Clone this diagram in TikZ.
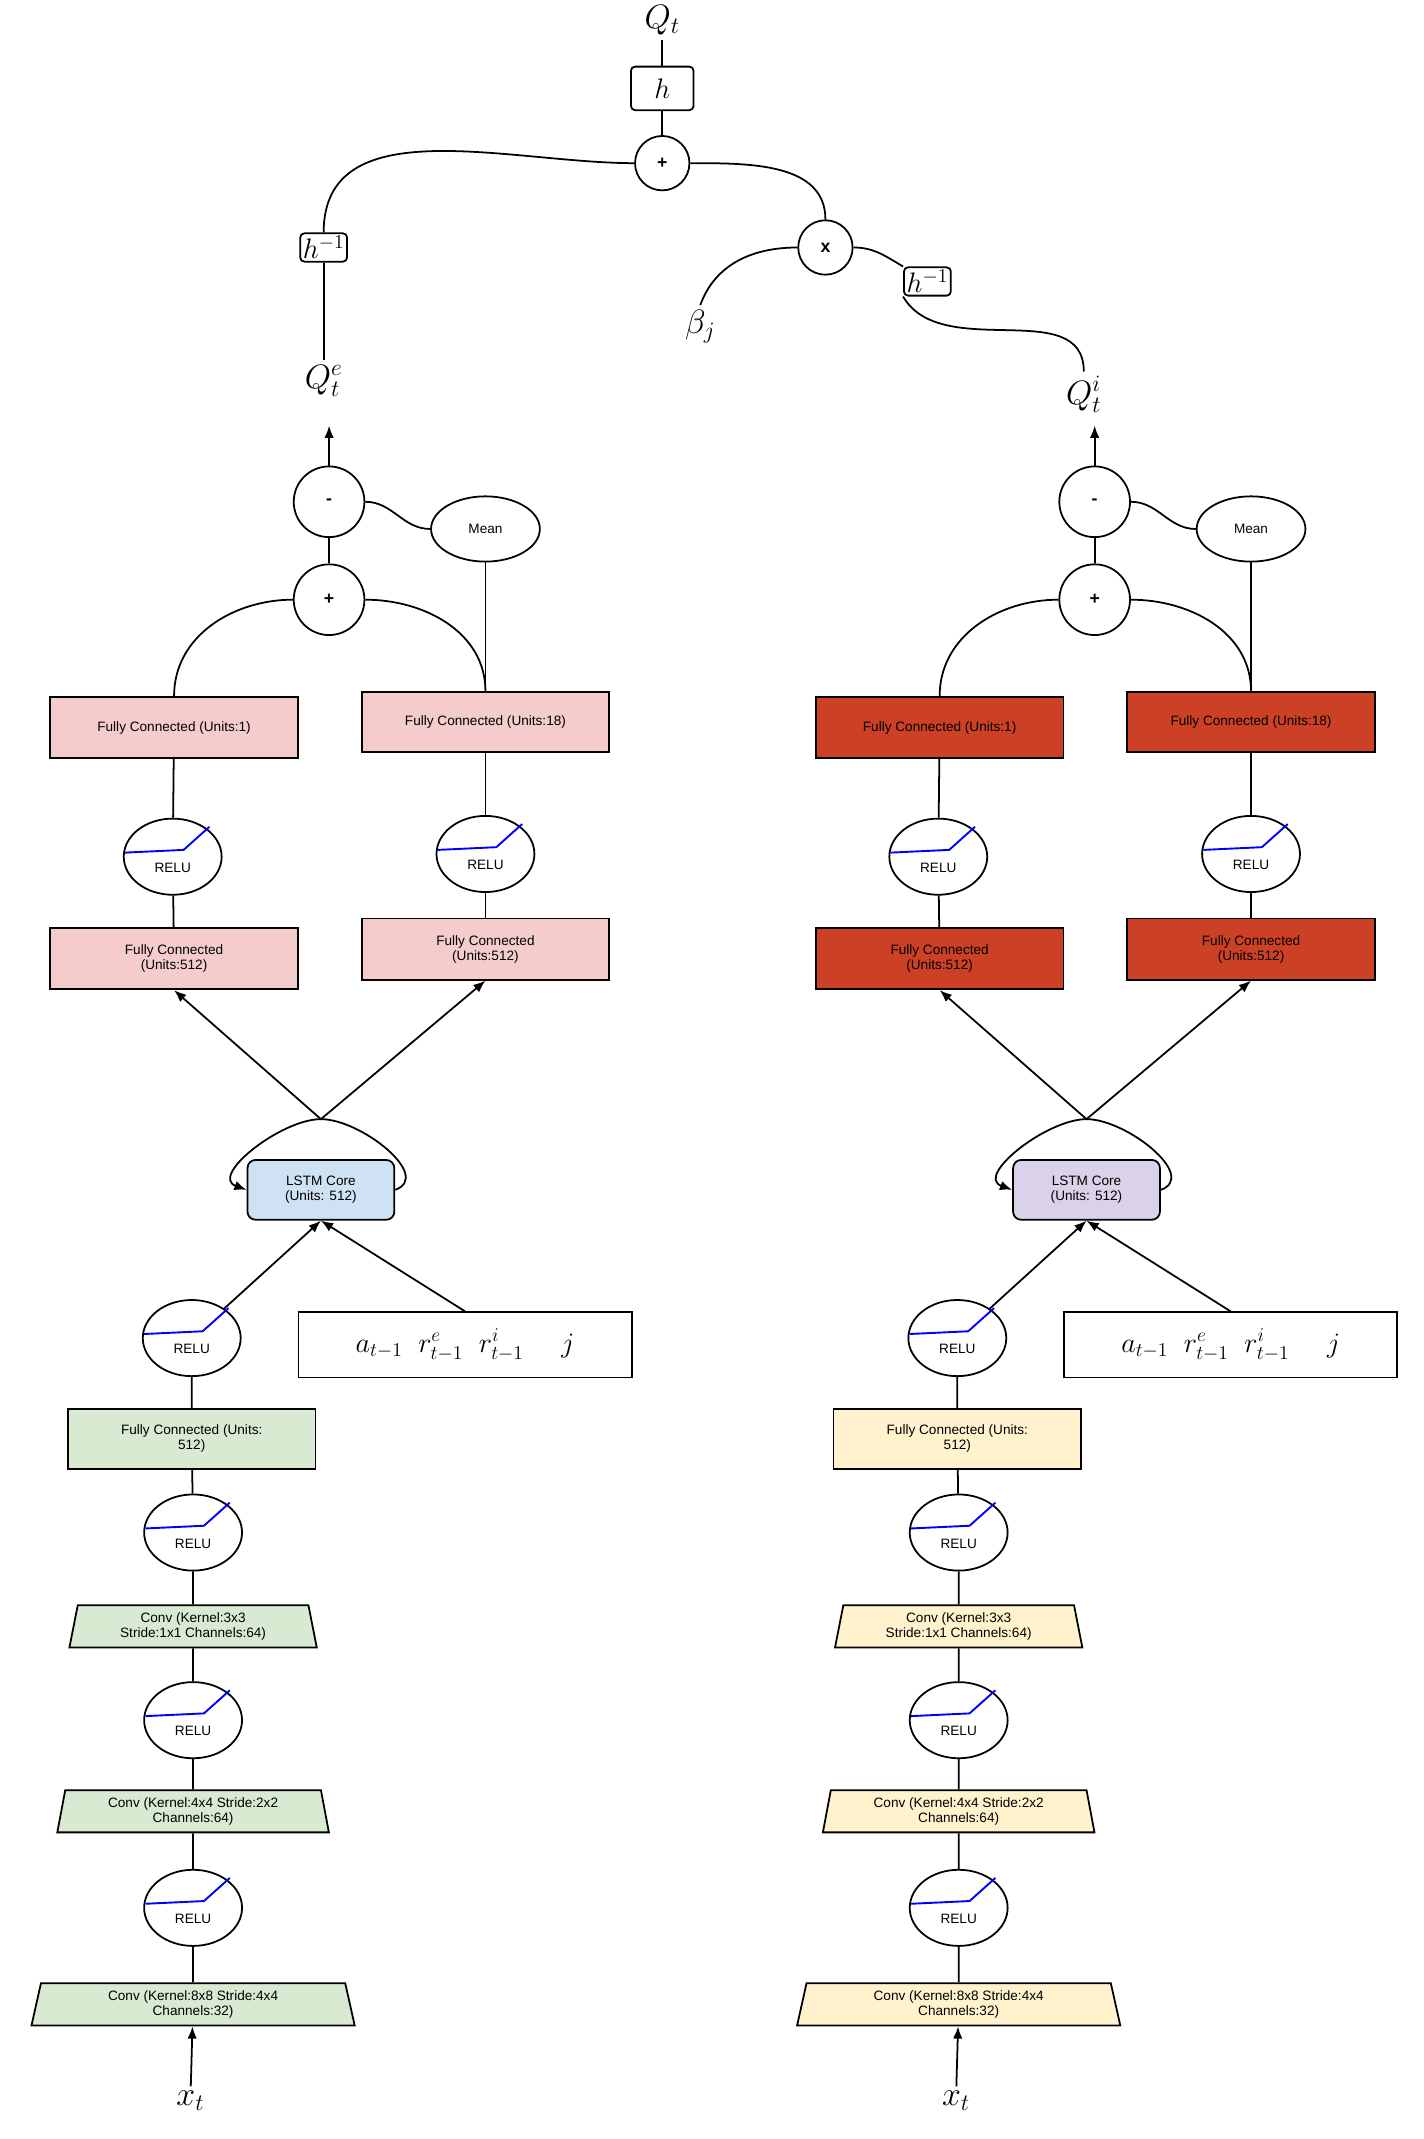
\documentclass[tikz,border=0pt]{standalone}
\usepackage{fontspec}
\newfontfamily\sans{Liberation Sans}
\usetikzlibrary{shapes.geometric,arrows.meta}
\definecolor{pinkc}{HTML}{F4CCCC}
\definecolor{redc}{HTML}{CC4125}
\definecolor{bluec}{HTML}{CFE2F3}
\definecolor{purc}{HTML}{D9D2E9}
\definecolor{greenc}{HTML}{D9EAD3}
\definecolor{yelc}{HTML}{FFF2CC}
\tikzset{
 every node/.style={font=\sans\fontsize{10}{11}\selectfont},
 ln/.style={line width=1.3pt},
 box/.style={draw,line width=1.3pt,minimum width=182pt,minimum height=45pt,align=center,inner sep=1pt},
 trap/.style={draw,line width=1.3pt,trapezium,trapezium stretches=true,trapezium angle=80,minimum height=31pt,align=center,inner sep=1pt},
 op/.style={draw,circle,line width=1.3pt,minimum size=52pt,inner sep=0pt,font=\sans\bfseries\fontsize{13}{13}\selectfont},
 relu/.style={draw,ellipse,line width=1.3pt,minimum width=72pt,minimum height=56pt},
 mathbox/.style={draw,line width=1.3pt,rounded corners=3pt,inner sep=2pt,font=\fontsize{22}{22}\selectfont},
 arr/.style={ln,-{Latex[length=9pt,width=7pt]}},
}
\newcommand{\reluicon}[3]{%
 \node[relu] (#1) at (#2,#3) {};
 \draw[blue,line width=1.4pt] (#2-35,#3-3) -- (#2+8,#3-5) -- (#2+27,#3-22);
 \node at (#2,#3+8) {RELU};}
\begin{document}
\begin{tikzpicture}[x=1pt,y=-1pt]
\useasboundingbox (0,0) rectangle (1047,1573);
% top
\node[font=\fontsize{24}{24}\selectfont] (Q) at (487,15) {$Q_t$};
\node[mathbox,minimum width=46pt,minimum height=32pt] (h) at (487,65) {$h$};
\node[op,minimum size=40pt] (top) at (487,120) {+};
\node[op,minimum size=40pt] (mul) at (607,182) {x};
\node[mathbox] (hl) at (238,182) {$h^{-1}$};
\node[mathbox] (hr) at (682,207) {$h^{-1}$};
\node[font=\fontsize{24}{24}\selectfont] (beta) at (515,240) {$\beta_j$};
\node[font=\fontsize{24}{24}\selectfont] (Qe) at (238,280) {$Q_t^e$};
\node[font=\fontsize{24}{24}\selectfont] (Qi) at (797,290) {$Q_t^i$};
\draw[ln] (Q) -- (h) -- (top);
\draw[ln] (top.west) to[out=180,in=90] (hl.north);
\draw[ln] (top.east) to[out=0,in=90] (mul.north);
\draw[ln] (mul.west) to[out=180,in=70] (beta.north);
\draw[ln] (mul.east) to[out=0,in=150] (hr.north west);
\draw[ln] (hr.south west) to[out=-60,in=90] (Qi.north);
\draw[ln] (hl) -- (Qe);
\foreach \s/\dx/\ca/\cb/\cl/\cy in {L/0/pinkc/bluec/greenc/0, R/563/redc/purc/yelc/0}{
 \begin{scope}[xshift=\dx]
 \coordinate (top\s) at (242,313);
 \node[op] (min\s) at (242,369) {-};
 \node[draw,ellipse,line width=1.3pt,minimum width=80pt,minimum height=48pt] (mean\s) at (357,389) {Mean};
 \node[op] (pl\s) at (242,441) {+};
 \node[box,fill=\ca] (fa\s) at (128,535) {Fully Connected (Units:1)};
 \node[box,fill=\ca,minimum height=44pt] (fb\s) at (357,531) {Fully Connected (Units:18)};
 \reluicon{ra\s}{127}{630}
 \reluicon{rb\s}{357}{628}
 \node[box,fill=\ca] (fc\s) at (128,705) {Fully Connected\\(Units:512)};
 \node[box,fill=\ca] (fd\s) at (357,698) {Fully Connected\\(Units:512)};
 \node[draw,line width=1.3pt,rounded corners=6pt,fill=\cb,minimum width=108pt,minimum height=44pt,align=center] (lstm\s) at (236,875) {LSTM Core\\(Units: 512)};
 \coordinate (lt\s) at (236,823);
 \reluicon{r1\s}{141}{984}
 \node[draw,line width=1.3pt,minimum width=245pt,minimum height=48pt,font=\fontsize{22}{22}\selectfont] (in\s) at (342,989) {$a_{t-1}\;\; r^e_{t-1}\;\; r^i_{t-1}\quad\; j$};
 \node[box,fill=\cl,minimum height=44pt] (f5\s) at (141,1058) {Fully Connected (Units:\\512)};
 \reluicon{r2\s}{142}{1127}
 \node[trap,fill=\cl,minimum width=182pt] (c1\s) at (142,1196) {Conv (Kernel:3x3\\Stride:1x1 Channels:64)};
 \reluicon{r3\s}{142}{1265}
 \node[trap,fill=\cl,minimum width=200pt] (c2\s) at (142,1332) {Conv (Kernel:4x4 Stride:2x2\\Channels:64)};
 \reluicon{r4\s}{142}{1403}
 \node[trap,fill=\cl,minimum width=238pt] (c3\s) at (142,1474) {Conv (Kernel:8x8 Stride:4x4\\Channels:32)};
 \node[font=\fontsize{26}{26}\selectfont] (x\s) at (140,1545) {$x_t$};
 \draw[arr] (min\s) -- (top\s);
 \draw[ln] (min\s) -- (pl\s);
 \draw[ln] (min\s.east) to[out=0,in=180] (mean\s.west);
 \draw[ln] (mean\s) -- (fb\s.north);
 \draw[ln] (pl\s.west) to[out=180,in=90] (fa\s.north);
 \draw[ln] (pl\s.east) to[out=0,in=90] (fb\s.north);
 \draw[ln] (fa\s) -- (ra\s) -- (fc\s);
 \draw[ln] (fb\s) -- (rb\s) -- (fd\s);
 \draw[arr] (lt\s) -- (fc\s.south);
 \draw[arr] (lt\s) -- (fd\s.south);
 \draw[arr] (lstm\s.east) to[out=20,in=0] (lt\s) to[out=180,in=160] (lstm\s.west);
 \draw[arr] (r1\s) -- (lstm\s.south);
 \draw[arr] (in\s.north) -- (lstm\s.south);
 \draw[ln] (r1\s) -- (f5\s) -- (r2\s) -- (c1\s) -- (r3\s) -- (c2\s) -- (r4\s) -- (c3\s);
 \draw[arr] (x\s) -- (c3\s);
 \end{scope}}
\end{tikzpicture}
\end{document}
